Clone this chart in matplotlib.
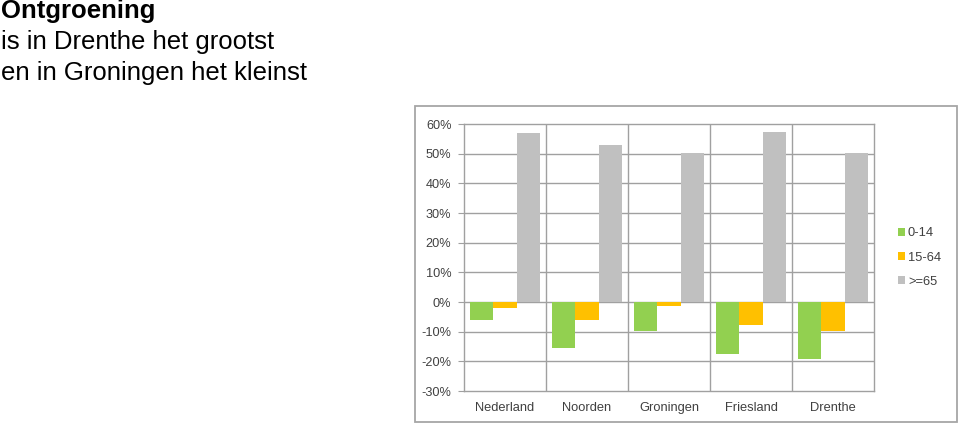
import matplotlib
matplotlib.use("Agg")
import matplotlib.pyplot as plt
import numpy as np
from matplotlib.patches import Rectangle
from matplotlib.ticker import FuncFormatter

plt.rcParams['font.family'] = ['Liberation Sans', 'DejaVu Sans']

# data (percent change per age group)
regions = ["Nederland", "Noorden", "Groningen", "Friesland", "Drenthe"]
groups = ["0-14", "15-64", ">=65"]
age_0_14 = [-6.0, -15.5, -9.8, -17.6, -19.1]
age_15_64 = [-1.9, -6.0, -1.5, -7.9, -9.8]
age_65 = [57.1, 52.9, 50.2, 57.5, 50.3]
colors = ["#92D050", "#FFC000", "#C0C0C0"]

fig = plt.figure(figsize=(9.6, 4.25), dpi=100)

# title lines
fig.text(0.001, 0.958, "Ontgroening", fontsize=18.5, fontweight="bold", va="baseline")
fig.text(0.001, 0.885, "is in Drenthe het grootst", fontsize=18.5, va="baseline")
fig.text(0.001, 0.811, "en in Groningen het kleinst", fontsize=18.5, va="baseline")

# outer chart border
fig.patches.append(Rectangle((0.4323, 0.007), 0.5646, 0.7435, transform=fig.transFigure,
                             fill=False, edgecolor="#A6A6A6", linewidth=1.3))

ax = fig.add_axes([0.4833, 0.08, 0.4271, 0.628])
x = np.arange(len(regions))
w = 0.285
for i, (vals, c, lab) in enumerate(zip([age_0_14, age_15_64, age_65], colors, groups)):
    ax.bar(x + (i - 1) * w, vals, width=w, color=c, label=lab, zorder=3)

ax.set_xlim(-0.5, len(regions) - 0.5)
ax.set_ylim(-30, 60)
ax.set_yticks(np.arange(-30, 61, 10))
ax.yaxis.set_major_formatter(FuncFormatter(lambda v, p: f"{v:.0f}%"))
ax.set_xticks(x)
ax.set_xticklabels(regions)

# grid: horizontal at ticks, vertical between categories
for v in np.arange(-20, 60, 10):
    ax.axhline(v, color="#A0A0A0", linewidth=1, zorder=1)
for b in np.arange(0.5, len(regions) - 0.5, 1):
    ax.axvline(b, color="#A0A0A0", linewidth=1, zorder=1)

for s in ax.spines.values():
    s.set_color("#A0A0A0")
    s.set_linewidth(1)
ax.tick_params(axis="y", colors="#A0A0A0", labelcolor="#404040", labelsize=9.2,
               length=4, direction="out", pad=5)
ax.tick_params(axis="x", length=0, labelcolor="#404040", labelsize=9.3, pad=8)

leg = ax.legend(loc="center left", bbox_to_anchor=(1.045, 0.5), frameon=False,
                fontsize=9.3, handlelength=0.6, handleheight=0.6, handletextpad=0.2,
                labelspacing=0.95, borderaxespad=0)
for t in leg.get_texts():
    t.set_color("#404040")

fig.savefig("out.png", dpi=100)
